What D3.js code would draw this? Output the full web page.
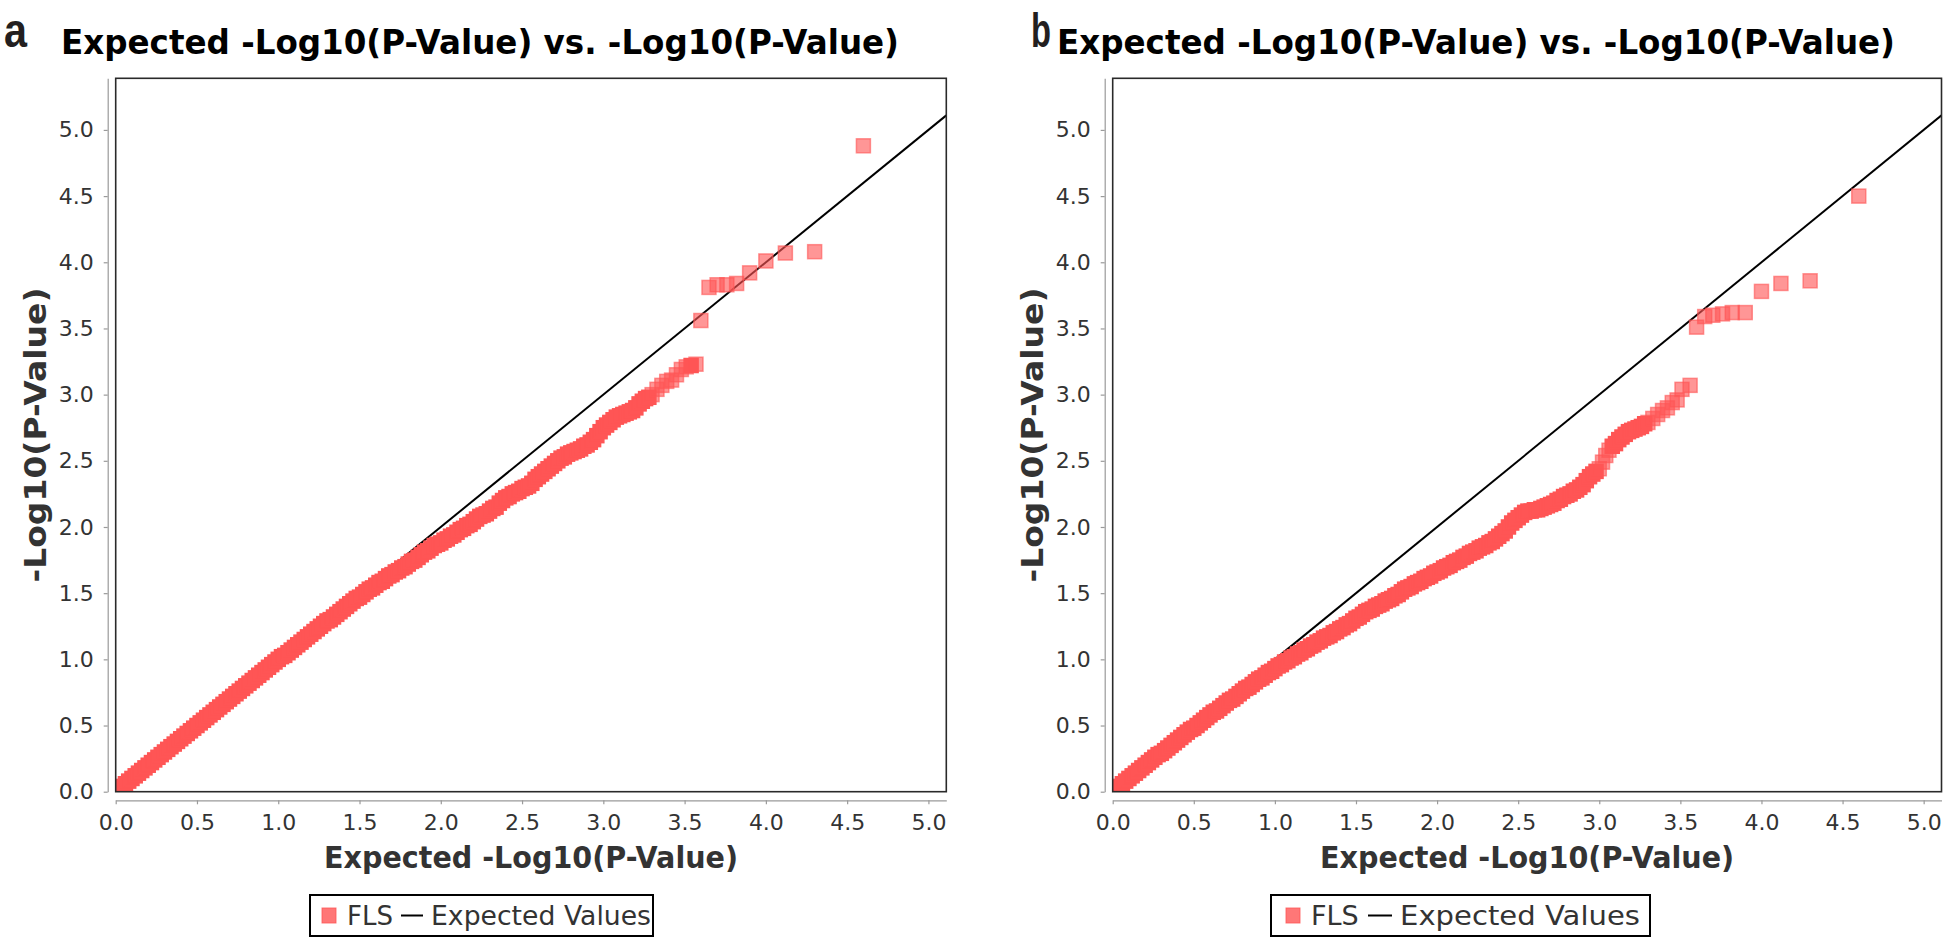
<!DOCTYPE html>
<html><head><meta charset="utf-8">
<script src="https://cdn.jsdelivr.net/npm/d3@7"></script>
<style>body{margin:0;background:#fff} svg{display:block}</style>
</head><body>
<svg id="chart" width="1944" height="940"></svg>
<script>
// ---------- data ----------
const xTicks = [0.0, 0.5, 1.0, 1.5, 2.0, 2.5, 3.0, 3.5, 4.0, 4.5, 5.0];
const yTicks = [0.0, 0.5, 1.0, 1.5, 2.0, 2.5, 3.0, 3.5, 4.0, 4.5, 5.0];
const xDomain = [0, 5.11];
const yDomain = [0, 5.39];
const panelLabels = ["a", "b"];
const titleText = "Expected -Log10(P-Value) vs. -Log10(P-Value)";
const xAxisTitle = "Expected -Log10(P-Value)";
const yAxisTitle = "-Log10(P-Value)";
const seriesName = "FLS";
const lineName = "Expected Values";
const expectedLine = [[0, 0], [5.11, 5.11]];

// panel a: [expected, observed]
const aPoints = [
 [0.00,0.00],[0.02,0.02],[0.04,0.04],[0.06,0.06],[0.08,0.08],[0.10,0.10],[0.12,0.12],[0.14,0.14],[0.16,0.16],[0.18,0.18],
 [0.20,0.20],[0.22,0.22],[0.24,0.24],[0.26,0.26],[0.28,0.28],[0.30,0.30],[0.32,0.32],[0.34,0.34],[0.36,0.36],[0.38,0.38],
 [0.40,0.40],[0.42,0.42],[0.44,0.44],[0.46,0.46],[0.48,0.48],[0.50,0.50],[0.52,0.52],[0.54,0.54],[0.56,0.56],[0.58,0.58],
 [0.60,0.60],[0.62,0.62],[0.64,0.64],[0.66,0.66],[0.68,0.68],[0.70,0.70],[0.72,0.72],[0.74,0.74],[0.76,0.76],[0.78,0.78],
 [0.80,0.80],[0.82,0.82],[0.84,0.84],[0.86,0.86],[0.88,0.88],[0.90,0.90],[0.92,0.92],[0.94,0.94],[0.96,0.96],[0.98,0.98],
 [1.00,1.00],[1.02,1.02],[1.04,1.03],[1.06,1.05],[1.08,1.07],[1.10,1.09],[1.12,1.11],[1.14,1.13],[1.16,1.15],[1.18,1.17],
 [1.20,1.19],[1.22,1.21],[1.24,1.23],[1.26,1.25],[1.28,1.27],[1.30,1.29],[1.32,1.30],[1.34,1.32],[1.36,1.34],[1.38,1.36],
 [1.40,1.38],[1.42,1.40],[1.44,1.42],[1.46,1.44],[1.48,1.46],[1.50,1.47],[1.52,1.49],[1.54,1.51],[1.56,1.53],[1.58,1.54],
 [1.60,1.56],[1.62,1.58],[1.64,1.59],[1.66,1.61],[1.68,1.63],[1.70,1.64],[1.72,1.66],[1.74,1.67],[1.76,1.69],[1.78,1.70],
 [1.80,1.72],[1.82,1.74],[1.84,1.75],[1.86,1.77],[1.88,1.79],[1.90,1.81],[1.92,1.82],[1.94,1.84],[1.96,1.86],[1.98,1.87],
 [2.00,1.88],[2.02,1.90],[2.04,1.91],[2.06,1.93],[2.08,1.94],[2.10,1.96],[2.12,1.98],[2.14,1.99],[2.16,2.01],[2.18,2.02],
 [2.20,2.04],[2.22,2.06],[2.24,2.08],[2.26,2.09],[2.28,2.10],[2.30,2.12],[2.32,2.14],[2.34,2.15],[2.36,2.18],[2.38,2.20],
 [2.40,2.22],[2.42,2.23],[2.44,2.25],[2.46,2.26],[2.48,2.27],[2.50,2.29],[2.52,2.30],[2.54,2.31],[2.56,2.33],[2.58,2.36],
 [2.60,2.38],[2.62,2.40],[2.64,2.42],[2.66,2.44],[2.68,2.46],[2.70,2.48],[2.72,2.50],[2.74,2.52],[2.76,2.53],[2.78,2.55],
 [2.80,2.56],[2.82,2.57],[2.84,2.58],[2.86,2.59],[2.88,2.61],[2.90,2.62],[2.92,2.64],[2.94,2.66],[2.96,2.69],[2.98,2.72],
 [3.00,2.75],[3.02,2.77],[3.04,2.79],[3.06,2.81],[3.08,2.83],[3.10,2.84],[3.12,2.85],[3.14,2.86],[3.16,2.87],[3.18,2.88],
 [3.20,2.90],[3.22,2.93],[3.24,2.95],[3.26,2.97],[3.28,2.98],[3.30,3.00],[3.33,3.04],[3.36,3.07],[3.39,3.10],[3.42,3.11],
 [3.45,3.15],[3.48,3.19],[3.51,3.21],[3.54,3.22],[3.57,3.23],[3.60,3.56],[3.65,3.81],[3.70,3.83],[3.76,3.83],[3.82,3.84],
 [3.90,3.92],[4.00,4.01],[4.12,4.07],[4.30,4.08],[4.60,4.88]
];

// panel b: [expected, observed]
const bPoints = [
 [0.00,0.00],[0.02,0.02],[0.04,0.04],[0.06,0.06],[0.08,0.08],[0.10,0.10],[0.12,0.12],[0.14,0.14],[0.16,0.16],[0.18,0.18],
 [0.20,0.20],[0.22,0.22],[0.24,0.24],[0.26,0.26],[0.28,0.28],[0.30,0.29],[0.32,0.31],[0.34,0.33],[0.36,0.35],[0.38,0.37],
 [0.40,0.39],[0.42,0.41],[0.44,0.43],[0.46,0.45],[0.48,0.47],[0.50,0.48],[0.52,0.50],[0.54,0.52],[0.56,0.54],[0.58,0.56],
 [0.60,0.58],[0.62,0.60],[0.64,0.61],[0.66,0.63],[0.68,0.65],[0.70,0.67],[0.72,0.69],[0.74,0.70],[0.76,0.72],[0.78,0.74],
 [0.80,0.76],[0.82,0.78],[0.84,0.79],[0.86,0.81],[0.88,0.83],[0.90,0.85],[0.92,0.86],[0.94,0.88],[0.96,0.90],[0.98,0.91],
 [1.00,0.93],[1.02,0.95],[1.04,0.96],[1.06,0.98],[1.08,0.99],[1.10,1.01],[1.12,1.02],[1.14,1.04],[1.16,1.05],[1.18,1.07],
 [1.20,1.08],[1.22,1.10],[1.24,1.11],[1.26,1.13],[1.28,1.14],[1.30,1.16],[1.32,1.17],[1.34,1.18],[1.36,1.20],[1.38,1.21],
 [1.40,1.23],[1.42,1.24],[1.44,1.26],[1.46,1.27],[1.48,1.29],[1.50,1.31],[1.52,1.32],[1.54,1.34],[1.56,1.36],[1.58,1.37],
 [1.60,1.38],[1.62,1.40],[1.64,1.41],[1.66,1.42],[1.68,1.44],[1.70,1.45],[1.72,1.46],[1.74,1.48],[1.76,1.49],[1.78,1.51],
 [1.80,1.53],[1.82,1.54],[1.84,1.55],[1.86,1.57],[1.88,1.58],[1.90,1.59],[1.92,1.61],[1.94,1.62],[1.96,1.63],[1.98,1.65],
 [2.00,1.66],[2.02,1.67],[2.04,1.69],[2.06,1.70],[2.08,1.71],[2.10,1.73],[2.12,1.74],[2.14,1.75],[2.16,1.77],[2.18,1.78],
 [2.20,1.80],[2.22,1.81],[2.24,1.82],[2.26,1.84],[2.28,1.85],[2.30,1.86],[2.32,1.88],[2.34,1.89],[2.36,1.91],[2.38,1.93],
 [2.40,1.95],[2.42,1.97],[2.44,2.00],[2.46,2.03],[2.48,2.05],[2.50,2.07],[2.52,2.09],[2.54,2.11],[2.56,2.12],[2.58,2.12],
 [2.60,2.13],[2.62,2.13],[2.64,2.14],[2.66,2.15],[2.68,2.16],[2.70,2.17],[2.72,2.18],[2.74,2.20],[2.76,2.21],[2.78,2.23],
 [2.80,2.24],[2.82,2.25],[2.84,2.27],[2.86,2.28],[2.88,2.30],[2.90,2.32],[2.92,2.35],[2.94,2.38],[2.96,2.40],[2.98,2.42],
 [3.00,2.44],[3.02,2.49],[3.04,2.54],[3.06,2.58],[3.08,2.61],[3.10,2.63],[3.12,2.66],[3.14,2.68],[3.16,2.70],[3.18,2.72],
 [3.20,2.73],[3.22,2.74],[3.24,2.75],[3.26,2.76],[3.28,2.78],[3.30,2.79],[3.33,2.82],[3.36,2.85],[3.39,2.88],[3.42,2.90],
 [3.45,2.94],[3.48,2.96],[3.51,3.04],[3.56,3.07],[3.60,3.51],[3.65,3.59],[3.70,3.60],[3.76,3.61],[3.82,3.62],[3.90,3.62],
 [4.00,3.78],[4.12,3.84],[4.30,3.86],[4.60,4.50]
];

// ---------- layout ----------
const panels = [
  {label: panelLabels[0], pts: aPoints, left: 115.7, right: 946.3, top: 78.3, bottom: 791.7,
   labelX: 4, labelW: 23, titleX: 61,
   legend: {x: 310, w: 343, fs: 26, sq: 12, fls: 37, l1: 91, l2: 113, txt: 121, txtW: 220}},
  {label: panelLabels[1], pts: bPoints, left: 1112.7, right: 1941.5, top: 78.3, bottom: 791.7,
   labelX: 1031, labelW: 20, titleX: 1057,
   legend: {x: 1271, w: 379, fs: 27, sq: 15, fls: 40, l1: 97, l2: 121, txt: 129, txtW: 240}}
];
const RED = "#ff5555";
const svg = d3.select("#chart");
const defs = svg.append("defs");

panels.forEach((p, i) => {
  const x = d3.scaleLinear().domain(xDomain).range([p.left, p.right]);
  const y = d3.scaleLinear().domain(yDomain).range([p.bottom, p.top]);
  const g = svg.append("g");

  // panel letter + title
  g.append("text").attr("x", p.labelX).attr("y", 47)
    .attr("font-family", "'Liberation Sans',Arial,sans-serif")
    .attr("font-weight", "bold").attr("font-size", 48)
    .attr("textLength", p.labelW).attr("lengthAdjust", "spacingAndGlyphs")
    .attr("fill", "#231f20").text(p.label);
  g.append("text").attr("x", p.titleX).attr("y", 54)
    .attr("font-family", "'DejaVu Sans',sans-serif").attr("font-weight", "bold")
    .attr("font-size", 33.5).attr("textLength", 838).attr("lengthAdjust", "spacingAndGlyphs")
    .attr("fill", "#000").text(titleText);

  // clip
  const cid = "clip" + i;
  defs.append("clipPath").attr("id", cid).append("rect")
    .attr("x", p.left).attr("y", p.top).attr("width", p.right - p.left).attr("height", p.bottom - p.top);

  const plot = g.append("g").attr("clip-path", `url(#${cid})`);
  // expected line
  plot.append("path")
    .attr("d", d3.line().x(d => x(d[0])).y(d => y(d[1]))(expectedLine))
    .attr("fill", "none").attr("stroke", "#000").attr("stroke-width", 2);

  // points: dense runs render solid (many overlapping marks), sparse ones translucent
  const s = 14;
  const px = p.pts.map(d => [x(d[0]), y(d[1])]);
  const dist = (a, b) => Math.hypot(a[0] - b[0], a[1] - b[1]);
  const op = px.map((c, k) => {
    const dp = k > 0 ? dist(c, px[k - 1]) : Infinity;
    const dn = k < px.length - 1 ? dist(c, px[k + 1]) : Infinity;
    return Math.max(dp, dn) < 5.5 ? 1 : 0.62;
  });
  plot.selectAll("rect.pt").data(p.pts).enter().append("rect").attr("class", "pt")
    .attr("x", d => x(d[0]) - s / 2).attr("y", d => y(d[1]) - s / 2)
    .attr("width", s).attr("height", s)
    .attr("fill", RED).attr("fill-opacity", (d, k) => op[k])
    .attr("stroke", RED).attr("stroke-opacity", (d, k) => op[k]).attr("stroke-width", 1.5);

  // border
  g.append("rect").attr("x", p.left).attr("y", p.top)
    .attr("width", p.right - p.left).attr("height", p.bottom - p.top)
    .attr("fill", "none").attr("stroke", "#2a2a2a").attr("stroke-width", 1.6);

  // axes
  const fmt = d3.format(".1f");
  const xa = g.append("g").attr("transform", `translate(0,${p.bottom + 8.6})`)
    .call(d3.axisBottom(x).tickValues(xTicks).tickFormat(fmt).tickSize(4).tickSizeOuter(0).tickPadding(10));
  const ya = g.append("g").attr("transform", `translate(${p.left - 8},0)`)
    .call(d3.axisLeft(y).tickValues(yTicks).tickFormat(fmt).tickSize(4).tickSizeOuter(0).tickPadding(10));
  [xa, ya].forEach(a => {
    a.select(".domain").attr("stroke", "#9a9a9a").attr("stroke-width", 1.2);
    a.selectAll(".tick line").attr("stroke", "#9a9a9a").attr("stroke-width", 1.2);
    a.selectAll(".tick text").attr("font-family", "'DejaVu Sans',sans-serif")
      .attr("font-size", 22).attr("fill", "#333");
  });

  // axis titles
  g.append("text").attr("x", (p.left + p.right) / 2).attr("y", 868)
    .attr("text-anchor", "middle").attr("font-family", "'DejaVu Sans',sans-serif")
    .attr("font-weight", "bold").attr("font-size", 30).attr("textLength", 414)
    .attr("lengthAdjust", "spacingAndGlyphs").attr("fill", "#333").text(xAxisTitle);
  g.append("text").attr("transform", `translate(${p.left - 70},${(p.top + p.bottom) / 2}) rotate(-90)`)
    .attr("text-anchor", "middle").attr("font-family", "'DejaVu Sans',sans-serif")
    .attr("font-weight", "bold").attr("font-size", 31).attr("textLength", 295)
    .attr("lengthAdjust", "spacingAndGlyphs").attr("fill", "#333").text(yAxisTitle);

  // legend
  const L = p.legend;
  const lg = g.append("g").attr("transform", `translate(${L.x},895)`);
  lg.append("rect").attr("x", 0).attr("y", 0).attr("width", L.w).attr("height", 41)
    .attr("fill", "#fff").attr("stroke", "#000").attr("stroke-width", 2);
  lg.append("rect").attr("x", L.sq).attr("y", 13).attr("width", 14).attr("height", 15)
    .attr("fill", RED).attr("fill-opacity", 0.8).attr("stroke", RED).attr("stroke-opacity", 0.8).attr("stroke-width", 1);
  lg.append("text").attr("x", L.fls).attr("y", 30).attr("font-family", "'DejaVu Sans',sans-serif")
    .attr("font-size", L.fs).attr("fill", "#333").text(seriesName);
  lg.append("line").attr("x1", L.l1).attr("x2", L.l2).attr("y1", 20.5).attr("y2", 20.5)
    .attr("stroke", "#000").attr("stroke-width", 2);
  lg.append("text").attr("x", L.txt).attr("y", 30).attr("font-family", "'DejaVu Sans',sans-serif")
    .attr("font-size", L.fs).attr("textLength", L.txtW).attr("lengthAdjust", "spacingAndGlyphs")
    .attr("fill", "#333").text(lineName);
});
</script>
</body></html>
